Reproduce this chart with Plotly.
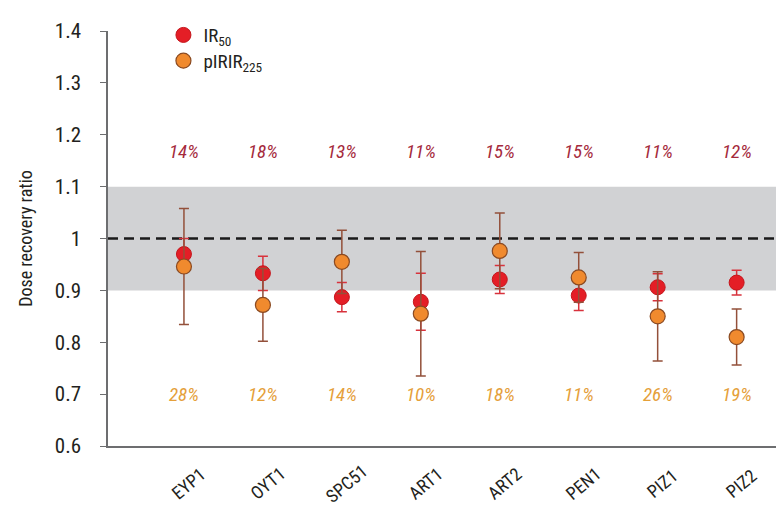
import plotly.graph_objects as go

categories = ["EYP1", "OYT1", "SPC51", "ART1", "ART2", "PEN1", "PIZ1", "PIZ2"]
ir50 = [0.970, 0.933, 0.887, 0.878, 0.921, 0.890, 0.906, 0.915]
ir50_err = [0.030, 0.033, 0.028, 0.055, 0.027, 0.029, 0.026, 0.024]
pirir225 = [0.946, 0.872, 0.955, 0.855, 0.976, 0.925, 0.850, 0.810]
pirir225_err = [0.112, 0.070, 0.061, 0.120, 0.073, 0.048, 0.086, 0.054]
ir50_pct = ["14%", "18%", "13%", "11%", "15%", "15%", "11%", "12%"]
pirir225_pct = ["28%", "12%", "14%", "10%", "18%", "11%", "26%", "19%"]
y_ticks = [0.6, 0.7, 0.8, 0.9, 1.0, 1.1, 1.2, 1.3, 1.4]
y_ticktext = ["0.6", "0.7", "0.8", "0.9", "1", "1.1", "1.2", "1.3", "1.4"]

FONT = "Liberation Sans Narrow, Roboto Condensed, Roboto, sans-serif"
xs = list(range(len(categories)))

fig = go.Figure()
fig.add_trace(go.Scatter(
    x=xs, y=ir50, mode="markers", name="IR<sub>50</sub>", legend="legend",
    marker=dict(size=15, color="#e41e26", line=dict(color="#c4161c", width=1)),
    error_y=dict(type="data", array=ir50_err, visible=True, color="#d8323c", thickness=1.5, width=5),
))
fig.add_trace(go.Scatter(
    x=xs, y=pirir225, mode="markers", name="pIRIR<sub>225</sub>", legend="legend2",
    marker=dict(size=15, color="#f08a2e", line=dict(color="#8a4a22", width=1.2)),
    error_y=dict(type="data", array=pirir225_err, visible=True, color="#93503a", thickness=1.5, width=5),
))

shapes = [
    dict(type="rect", xref="paper", yref="y", x0=0, x1=1, y0=0.9, y1=1.1,
         fillcolor="#d1d2d4", line=dict(width=0), layer="below"),
    dict(type="line", xref="paper", yref="y", x0=0, x1=1, y0=1.0, y1=1.0,
         line=dict(color="#1a1a1a", width=2.5, dash="10px,6px"), layer="below"),
]

annotations = []
for i, c in enumerate(categories):
    annotations.append(dict(x=i, y=1.168, xref="x", yref="y", text=ir50_pct[i], showarrow=False,
                            xanchor="center", yanchor="middle",
                            font=dict(family=FONT, size=19, color="#a52a3c", style="italic")))
    annotations.append(dict(x=i, y=0.70, xref="x", yref="y", text=pirir225_pct[i], showarrow=False,
                            xanchor="center", yanchor="middle",
                            font=dict(family=FONT, size=19, color="#e5a03a", style="italic")))
    annotations.append(dict(x=i + 0.06, y=-0.091, xref="x", yref="paper", text=c, showarrow=False,
                            xanchor="center", yanchor="middle",
                            textangle=-40, font=dict(family=FONT, size=18, color="#231f20")))

legend_style = dict(xanchor="left", yanchor="top", bgcolor="rgba(0,0,0,0)",
                    font=dict(family=FONT, size=19, color="#231f20"), itemwidth=30)

fig.update_layout(
    width=784, height=508,
    margin=dict(l=100, r=8, t=11, b=70),
    plot_bgcolor="white", paper_bgcolor="white",
    font=dict(family=FONT, color="#231f20"),
    shapes=shapes, annotations=annotations,
    showlegend=True,
    legend=dict(x=0.082, y=1.036, **legend_style),
    legend2=dict(x=0.082, y=0.974, **legend_style),
    xaxis=dict(range=[-0.962, 7.6], showline=True, linecolor="#6d6e70", linewidth=1.5,
               showgrid=False, zeroline=False, showticklabels=False, ticks="",
               tickvals=xs),
    yaxis=dict(range=[0.6, 1.4], showline=True, linecolor="#6d6e70", linewidth=1.5,
               showgrid=False, zeroline=False, ticks="outside", ticklen=6, tickcolor="#6d6e70",
               tickvals=y_ticks, ticktext=y_ticktext, ticklabelstandoff=15,
               tickfont=dict(family=FONT, size=21, color="#231f20"),
               title=dict(text="Dose recovery ratio", font=dict(family=FONT, size=18, color="#231f20"),
                          standoff=17)),
)

fig.write_html("out.html")
